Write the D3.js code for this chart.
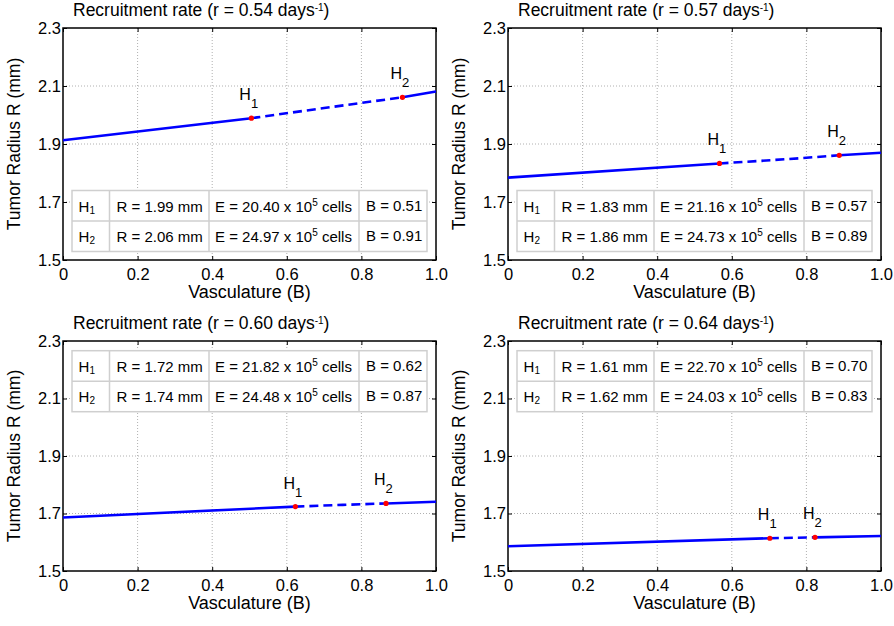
<!DOCTYPE html>
<html><head><meta charset="utf-8">
<script src="https://cdn.jsdelivr.net/npm/d3@7"></script>
<style>body{margin:0;background:#fff}svg{font-family:"Liberation Sans",Arial,Helvetica,sans-serif}</style>
</head><body>
<script>
// ---- data ----
const rates = ["0.54", "0.57", "0.60", "0.64"];
const curveB = [
  [0, 0.505, 0.7, 0.91, 1.0],
  [0, 0.567, 0.75, 0.888, 1.0],
  [0, 0.623, 0.75, 0.866, 1.0],
  [0, 0.702, 0.823, 1.0]
];
const curveR = [
  [1.913, 1.989, 2.024, 2.061, 2.081],
  [1.784, 1.833, 1.848, 1.861, 1.870],
  [1.686, 1.724, 1.730, 1.735, 1.741],
  [1.586, 1.614, 1.617, 1.622]
];
const h1Index = [1, 1, 1, 1];
const h2Index = [3, 3, 3, 2];
const tableR = [["1.99", "2.06"], ["1.83", "1.86"], ["1.72", "1.74"], ["1.61", "1.62"]];
const tableE = [["20.40", "24.97"], ["21.16", "24.73"], ["21.82", "24.48"], ["22.70", "24.03"]];
const tableB = [["0.51", "0.91"], ["0.57", "0.89"], ["0.62", "0.87"], ["0.70", "0.83"]];
const xTicks = [0, 0.2, 0.4, 0.6, 0.8, 1.0];
const yTicks = [1.5, 1.7, 1.9, 2.1, 2.3];

// ---- layout ----
const W = 894, H = 626;
const panels = [
  {left: 63, top: 28, bottom: 260, tableTop: true},
  {left: 508, top: 28, bottom: 260, tableTop: true},
  {left: 63, top: 341, bottom: 571, tableTop: false},
  {left: 508, top: 341, bottom: 571, tableTop: false}
];
const pw = 373;

const svg = d3.select("body").append("svg").attr("width", W).attr("height", H);

panels.forEach((p, i) => {
  const x = d3.scaleLinear().domain([0, 1]).range([p.left, p.left + pw]);
  const y = d3.scaleLinear().domain([1.5, 2.3]).range([p.bottom, p.top]);
  const g = svg.append("g");

  // grid
  g.selectAll(".gx").data(xTicks.slice(1, -1)).join("line")
    .attr("x1", d => x(d)).attr("x2", d => x(d)).attr("y1", p.top).attr("y2", p.bottom)
    .attr("stroke", "#b0b0b0").attr("stroke-width", 1).attr("stroke-dasharray", "1,2");
  g.selectAll(".gy").data(yTicks.slice(1, -1)).join("line")
    .attr("y1", d => y(d)).attr("y2", d => y(d)).attr("x1", p.left).attr("x2", p.left + pw)
    .attr("stroke", "#b0b0b0").attr("stroke-width", 1).attr("stroke-dasharray", "1,2");

  // axes with inward ticks
  const fmtX = d => d === 0 ? "0" : d3.format(".1f")(d);
  const ax = g.append("g").attr("transform", `translate(0,${p.bottom})`)
    .call(d3.axisBottom(x).tickValues(xTicks).tickFormat(fmtX).tickSizeInner(-4).tickSizeOuter(0).tickPadding(8));
  const ay = g.append("g").attr("transform", `translate(${p.left},0)`)
    .call(d3.axisLeft(y).tickValues(yTicks).tickFormat(d3.format(".1f")).tickSizeInner(-4).tickSizeOuter(0).tickPadding(2));
  const axT = g.append("g").attr("transform", `translate(0,${p.top})`)
    .call(d3.axisTop(x).tickValues(xTicks).tickFormat("").tickSizeInner(-4).tickSizeOuter(0));
  const ayR = g.append("g").attr("transform", `translate(${p.left + pw},0)`)
    .call(d3.axisRight(y).tickValues(yTicks).tickFormat("").tickSizeInner(-4).tickSizeOuter(0));
  [ax, ay, axT, ayR].forEach(a => {
    a.select(".domain").remove();
    a.selectAll(".tick line").attr("stroke", "#000");
    a.selectAll("text").attr("font-size", 16.5).attr("fill", "#000").attr("font-family", "Liberation Sans, Arial, sans-serif");
  });
  ax.selectAll("text").attr("dy", "0.71em");
  g.append("rect").attr("x", p.left).attr("y", p.top).attr("width", pw).attr("height", p.bottom - p.top)
    .attr("fill", "none").attr("stroke", "#000").attr("stroke-width", 1.5);

  // table
  const cols = [9, 46.5, 146, 296, 364].map(v => p.left + v);
  const ty0 = p.tableTop ? p.bottom - 69.5 : p.top + 9.7;
  const rh = 30.5;
  const tg = g.append("g");
  tg.append("rect").attr("x", cols[0]).attr("y", ty0).attr("width", cols[4] - cols[0]).attr("height", 2 * rh)
    .attr("fill", "#fff").attr("stroke", "#cfcfcf").attr("stroke-width", 1.5);
  tg.append("line").attr("x1", cols[0]).attr("x2", cols[4]).attr("y1", ty0 + rh).attr("y2", ty0 + rh)
    .attr("stroke", "#cfcfcf").attr("stroke-width", 1.5);
  cols.slice(1, 4).forEach(c => tg.append("line").attr("x1", c).attr("x2", c).attr("y1", ty0).attr("y2", ty0 + 2 * rh)
    .attr("stroke", "#cfcfcf").attr("stroke-width", 1.5));
  [0, 1].forEach(r => {
    const by = ty0 + rh * r + 21;
    const hl = tg.append("text").attr("x", (cols[0] + cols[1]) / 2 - 4).attr("y", by).attr("font-size", 15).attr("text-anchor", "middle");
    hl.append("tspan").text("H");
    hl.append("tspan").attr("font-size", 10).attr("dy", 2).text(r === 0 ? "1" : "2");
    tg.append("text").attr("x", cols[1] + 7).attr("y", by).attr("font-size", 15).text(`R = ${tableR[i][r]} mm`);
    const et = tg.append("text").attr("x", cols[2] + 6).attr("y", by).attr("font-size", 15);
    et.append("tspan").text(`E = ${tableE[i][r]} x 10`);
    et.append("tspan").attr("font-size", 10).attr("dy", -6).text("5");
    et.append("tspan").attr("dy", 6).text(" cells");
    tg.append("text").attr("x", cols[3] + 7).attr("y", by - 1).attr("font-size", 15).text(`B = ${tableB[i][r]}`);
  });

  // curve
  const pts = curveB[i].map((b, k) => [b, curveR[i][k]]);
  const a = h1Index[i], b = h2Index[i];
  const line = d3.line().x(d => x(d[0])).y(d => y(d[1])).curve(d3.curveMonotoneX);
  const segs = [
    {d: pts.slice(0, a + 1), dash: null},
    {d: pts.slice(a, b + 1), dash: "9,5"},
    {d: pts.slice(b), dash: null}
  ];
  segs.forEach(s => g.append("path").attr("d", line(s.d)).attr("fill", "none")
    .attr("stroke", "#0000ff").attr("stroke-width", 2.6).attr("stroke-dasharray", s.dash));

  // points and labels
  [[a, "1"], [b, "2"]].forEach(([k, lab]) => {
    const px = x(pts[k][0]), py = y(pts[k][1]);
    g.append("circle").attr("cx", px).attr("cy", py).attr("r", 2.6).attr("fill", "#ff0000");
    const t = g.append("text").attr("x", px - 12).attr("y", py - 18).attr("font-size", 16);
    t.append("tspan").text("H");
    t.append("tspan").attr("dy", 8).attr("font-size", 13).text(lab);
  });

  // title
  const tt = g.append("text").attr("x", p.left + 10).attr("y", p.top - 12).attr("font-size", 17.5);
  tt.append("tspan").text(`Recruitment rate (r = ${rates[i]} days`);
  tt.append("tspan").attr("font-size", 10).attr("dy", -5).text("-1");
  tt.append("tspan").attr("dy", 5).text(")");

  // axis labels
  g.append("text").attr("x", p.left + pw / 2).attr("y", p.bottom + 38).attr("text-anchor", "middle")
    .attr("font-size", 18).text("Vasculature (B)");
  g.append("text").attr("transform", `translate(${p.left - 43},${(p.top + p.bottom) / 2}) rotate(-90)`)
    .attr("text-anchor", "middle").attr("font-size", 17.5).text("Tumor Radius R (mm)");
});
</script>
</body></html>
